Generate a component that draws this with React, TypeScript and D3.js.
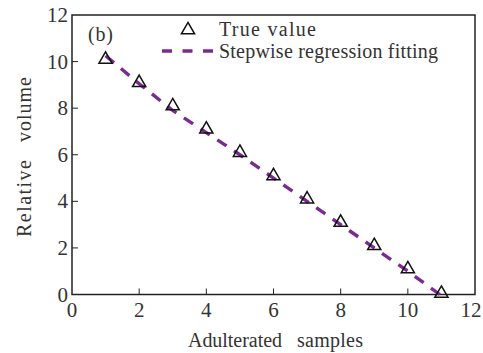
import React from "react";
import * as d3 from "d3";

const samples = [1, 2, 3, 4, 5, 6, 7, 8, 9, 10, 11];
const trueValues = [10.05, 9.05, 8.05, 7.05, 6.05, 5.05, 4.05, 3.05, 2.05, 1.05, 0.0];
const fitValues = [10.25, 9.05, 7.9, 6.95, 6.0, 5.0, 4.0, 3.0, 2.0, 1.0, -0.05];
const xTicks = [0, 2, 4, 6, 8, 10, 12];
const yTicks = [0, 2, 4, 6, 8, 10, 12];

const W = 483, H = 353;
const M = { left: 72, right: 475, top: 15, bottom: 294.5 };
const PURPLE = "#7a2b8f";
const FONT = "'Liberation Serif', 'Times New Roman', serif";

export default function App() {
  const x = d3.scaleLinear().domain([0, 12]).range([M.left, M.right]);
  const y = d3.scaleLinear().domain([0, 12]).range([M.bottom, M.top]);
  const line = d3.line<number>().x((_, i) => x(samples[i])).y((d) => y(d));
  const tri = d3.symbol().type(d3.symbolTriangle).size(75)();

  return (
    <svg width={W} height={H} style={{ position: "absolute", left: 0, top: 0 }}>
      <rect x={0} y={0} width={W} height={H} fill="#fff" />
      <rect x={M.left} y={M.top} width={M.right - M.left} height={M.bottom - M.top} fill="none" stroke="#222" strokeWidth={1.5} />
      {xTicks.map((t) => (
        <g key={"x" + t}>
          {t > 0 && t < 12 && <line x1={x(t)} x2={x(t)} y1={M.bottom} y2={M.bottom - 6} stroke="#222" strokeWidth={1} />}
          <text x={Math.min(x(t), W - 12)} y={M.bottom + 22} textAnchor="middle" fontFamily={FONT} fontSize={21} fill="#333">{t}</text>
        </g>
      ))}
      {yTicks.map((t) => (
        <g key={"y" + t}>
          {t > 0 && t < 12 && <line x1={M.left} x2={M.left + 6} y1={y(t)} y2={y(t)} stroke="#222" strokeWidth={1} />}
          <text x={M.left - 4} y={y(t) + 7} textAnchor="end" fontFamily={FONT} fontSize={21} fill="#333">{t}</text>
        </g>
      ))}
      <path d={line(fitValues) || ""} fill="none" stroke={PURPLE} strokeWidth={3.4} strokeDasharray="11,9" />
      {samples.map((s, i) => (
        <path key={s} d={tri} transform={`translate(${x(s)},${y(trueValues[i]) - 1})`} fill="none" stroke="#111" strokeWidth={1.5} />
      ))}
      <text x={88} y={41} fontFamily={FONT} fontSize={20} fill="#333" textLength={25} lengthAdjust="spacing">(b)</text>
      <path d={tri} transform="translate(188,30)" fill="none" stroke="#111" strokeWidth={1.5} />
      <text x={219} y={36} fontFamily={FONT} fontSize={20} fill="#333" textLength={97} lengthAdjust="spacing">True value</text>
      <line x1={162} x2={213} y1={51} y2={51} stroke={PURPLE} strokeWidth={3.4} strokeDasharray="10,10.5" />
      <text x={219} y={58} fontFamily={FONT} fontSize={20} fill="#333" textLength={219} lengthAdjust="spacing">Stepwise regression fitting</text>
      <text x={188} y={347} fontFamily={FONT} fontSize={20} fill="#333" textLength={94} lengthAdjust="spacing">Adulterated</text>
      <text x={297} y={347} fontFamily={FONT} fontSize={20} fill="#333" textLength={66} lengthAdjust="spacing">samples</text>
      <text transform="translate(31,237) rotate(-90)" fontFamily={FONT} fontSize={20} fill="#333" textLength={77} lengthAdjust="spacing">Relative</text>
      <text transform="translate(31,142) rotate(-90)" fontFamily={FONT} fontSize={20} fill="#333" textLength={65} lengthAdjust="spacing">volume</text>
    </svg>
  );
}
